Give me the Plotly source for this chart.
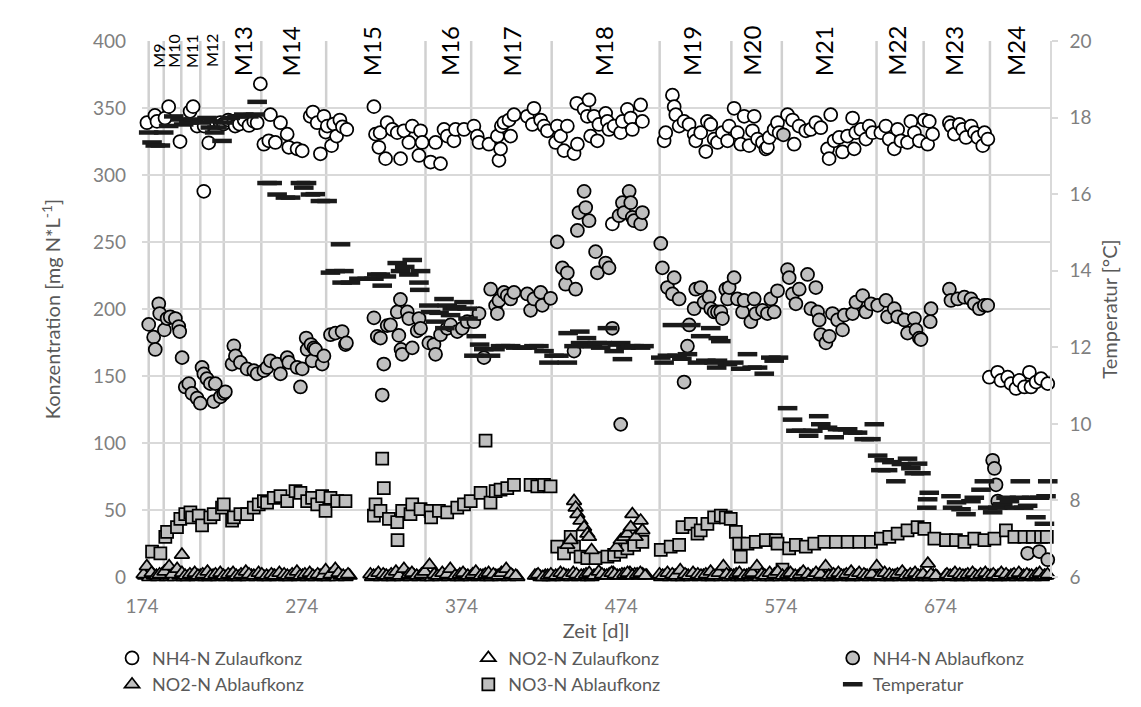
import plotly.graph_objects as go

FONT = "Lato"

# phase boundaries (day) and phase label positions
phase_start = [178.2, 187.6, 198.6, 210.5, 225.2, 248.7, 289.3, 351.5, 380.1,
               430.5, 498.1, 543.0, 574.6, 633.9, 663.4, 704.9]
phase_names = ['M9', 'M10', 'M11', 'M12', 'M13', 'M14', 'M15', 'M16', 'M17',
               'M18', 'M19', 'M20', 'M21', 'M22', 'M23', 'M24']
phase_label_x = [184.2, 193.9, 205.3, 217.9, 236.7, 266.9, 317.5, 366.2, 405.2,
                 462.7, 517.7, 555.1, 600.5, 646.4, 681.7, 720.5]

# NH4-N Zulaufkonz (white circles)
nh4_zu_days = [177.1, 182.1, 183.4, 188.4, 190.7, 197.8, 204.1, 206.0, 208.5, 212.7,
               212.9, 215.8, 222.9, 225.0, 228.0, 231.5, 232.3, 235.0, 238.0, 241.0,
               244.0, 246.1, 248.1, 250.3, 253.4, 254.4, 257.5, 260.7, 264.9, 265.9,
               271.1, 274.3, 279.3, 281.0, 283.7, 285.7, 287.9, 289.0, 290.0, 292.7,
               294.0, 295.8, 297.9, 299.5, 302.2,
               319.2, 320.2, 322.3, 323.1, 326.5, 327.5, 330.7, 333.8, 335.9, 338.0,
               341.1, 343.2, 347.4, 348.4, 349.4, 354.7, 357.8, 360.9, 363.1, 365.1,
               369.3, 370.3, 375.6, 381.8, 383.9, 385.0, 391.2, 396.5, 397.5, 398.5,
               399.0, 400.6, 403.8, 404.8, 406.9, 415.2, 418.4, 419.4, 423.6, 425.7,
               427.8, 433.0, 434.0, 436.1, 438.2, 440.3, 444.5, 446.2, 446.6, 450.8,
               452.8, 453.9, 454.9, 457.0, 459.1, 460.1, 464.3, 465.4, 466.4, 468.5,
               469.6, 473.7, 474.8, 477.9, 480.0, 481.0, 486.2, 487.3,
               500.9, 501.9, 506.1, 507.2, 508.2, 510.3, 513.4, 516.5, 519.7, 520.7,
               523.8, 527.0, 528.0, 530.1, 532.2, 534.3, 537.4, 540.6, 541.6, 544.7,
               546.8, 548.9, 551.0, 554.1, 556.2, 557.3, 559.4, 562.5, 564.6, 565.6,
               566.7, 569.8, 571.9, 572.9, 578.2, 581.3, 582.3, 585.4, 589.6, 592.7,
               595.9, 599.0, 603.2, 604.2, 605.2, 607.4, 610.5, 612.6, 615.7, 618.9,
               619.9, 620.9, 624.1, 627.2, 629.3, 631.4, 636.6, 639.7, 641.8, 645.0,
               647.1, 649.2, 653.3, 655.4, 657.6, 660.7, 663.8, 665.9, 666.9, 669.0,
               679.5, 680.5, 682.6, 685.8, 687.8, 689.9, 693.1, 695.2, 697.3, 700.4,
               701.5, 703.6,
               704.5, 709.7, 711.8, 716.0, 718.1, 721.2, 723.3, 726.5, 729.6, 730.6,
               733.8, 736.9, 741.1]
nh4_zu = [339, 344.5, 340, 342.5, 351, 325, 347.5, 351, 336.5, 287.8,
          336.5, 324, 339, 338, 341, 340, 336.5, 338, 341, 337,
          340, 339, 368, 323, 325.5, 345, 324.3, 339, 330.5, 320.7,
          319.5, 318, 343.8, 347, 339, 315.8, 343.8, 332, 336.5, 321.9,
          338, 329, 341, 336, 334,
          351, 330.5, 320.7, 331.6, 312.2, 339, 334, 331.6, 312.2, 333,
          324.3, 336.5, 314.6, 333, 324.3, 309.7, 324.3, 308.5, 334, 329,
          325.5, 334, 334, 336.5, 329, 324.3, 323, 329, 311, 319.5,
          336.5, 339, 341, 329, 345, 343.8, 337.7, 349.8, 341, 336.5,
          333, 324.3, 336.5, 329, 318.2, 336.5, 316, 353.5, 323, 349,
          343.8, 356, 329, 343.8, 325.5, 337.7, 346, 340, 334, 263.5,
          336.5, 331.6, 340, 349, 342.5, 334, 352.3, 340,
          325.5, 331.6, 359.6, 351, 345, 336.5, 340, 337.7, 330.5, 325.5,
          331.6, 317.5, 340, 337.7, 326.8, 324.3, 331.6, 325.5, 336.5, 349.8,
          331.6, 323, 343.8, 321.9, 333, 343.8, 326.8, 324.3, 319.5, 320.7,
          328, 334, 339, 331.6, 345, 341, 323, 336.5, 333, 334,
          339, 335.3, 319.5, 312.2, 345, 325.5, 328, 317.2, 329, 342.5,
          319.5, 331.6, 334, 326.8, 336.5, 331.6, 331.6, 336.5, 326.8, 319.5,
          334, 325.5, 324.3, 340, 331.6, 325.5, 341, 323, 340, 330.5,
          339, 336.5, 330.5, 337.7, 334, 328, 336.5, 331.6, 328, 321.9,
          331.6, 326.8,
          149.1, 152.8, 146.7, 149.1, 144.3, 140.7, 146.7, 141.8, 152.8, 141.8,
          145.5, 148, 144.3]

# NH4-N Ablaufkonz (grey circles)
nh4_ab_days = [178.2, 181.3, 182.3, 184.5, 185.1, 188.0, 189.7, 191.7, 194.9, 197.0,
               197.6, 199.1, 201.1, 203.3, 205.3, 208.5, 210.5, 211.6, 212.7, 214.7,
               216.8, 218.9, 219.9, 223.1, 225.2, 226.2, 230.4, 231.5, 232.5, 235.6,
               239.8, 244.0, 246.1, 250.3, 252.3, 254.4, 258.6, 260.7, 264.9, 265.9,
               271.1, 273.2, 274.3, 276.8, 277.4, 279.8, 280.5, 281.6, 282.6, 286.8,
               287.9, 292.0, 295.1, 299.3, 301.4, 302.0,
               319.2, 321.3, 323.3, 324.4, 325.4, 327.5, 329.6, 333.8, 334.8, 335.8,
               336.2, 336.9, 340.1, 341.1, 343.2, 346.3, 347.4, 348.4, 353.6, 356.8,
               357.8, 360.9, 365.1, 367.2, 371.4, 374.5, 377.6, 381.8, 385.0, 388.1,
               392.3, 395.4, 396.5, 397.5, 400.6, 402.7, 404.8, 406.9, 415.2, 417.3,
               419.4, 423.6, 424.6, 429.8, 434.0, 437.2, 439.2, 440.3, 444.5, 445.5,
               446.6, 447.6, 450.8, 451.8, 453.9, 458.0, 459.1, 464.3, 466.4, 468.5,
               472.7, 473.7, 474.8, 475.8, 479.0, 480.0, 481.0, 482.1, 486.2, 487.3,
               498.8, 499.8, 503.0, 506.1, 507.2, 510.3, 513.4, 515.5, 516.6, 519.7,
               520.7, 523.8, 525.9, 529.1, 530.1, 532.2, 534.3, 536.4, 537.4, 539.5,
               540.6, 541.6, 544.7, 546.8, 550.0, 551.0, 555.2, 557.3, 558.3, 562.5,
               565.6, 567.7, 569.8, 571.9, 575.6, 578.2, 579.2, 581.3, 583.4, 585.5,
               590.7, 592.8, 595.9, 597.0, 598.0, 599.0, 602.2, 604.3, 606.3, 609.5,
               612.6, 613.7, 618.9, 621.0, 625.2, 627.2, 630.4, 634.6, 639.8, 640.8,
               645.0, 647.1, 651.3, 653.3, 657.6, 658.6, 660.7, 661.7, 667.5, 668.0,
               679.5, 680.5, 684.7, 688.9, 693.0, 695.1, 698.3, 701.4, 703.5,
               706.6, 707.7, 708.7, 709.8, 728.5, 735.8, 741.1]
nh4_ab = [188.5, 179, 169.8, 203.9, 196.6, 184.4, 192.9, 194.2, 192.9, 186.9,
          183.2, 163.7, 141.8, 144.3, 137, 133.4, 129.7, 156.4, 151.6, 148,
          144.3, 130.9, 144.3, 134.5, 137, 138.2, 158.9, 172.5, 165, 160.1,
          155.3, 154, 151.6, 154, 156.4, 161.3, 158.9, 151.6, 163.7, 160.1,
          156.4, 141.8, 155.3, 178.3, 169.8, 173.5, 161.3, 171, 169.8, 158.9,
          165, 180.8, 182, 183.2, 173.5, 174.7,
          193.4, 179.6, 178.3, 135.8, 158.9, 187.6, 188.1, 197.8, 180.3, 207.1,
          169.8, 166.2, 197.8, 192.9, 171, 183.7, 192.9, 185.6, 174.7, 173.5,
          166.2, 180.8, 185.6, 188.1, 183.2, 185.6, 190.5, 190.5, 196.6, 163.7,
          214.8, 202.7, 196.6, 206.4, 212.4, 210, 207.5, 212.4, 211.2, 199,
          207.5, 212.4, 202.7, 208, 250.1, 230.7, 218.5, 227, 168.6, 214.8,
          258.6, 272, 287.8, 275.7, 265.9, 242.8, 227, 234.3, 230.7, 185.6,
          269.6, 113.9, 279.3, 272, 287.8, 279.3, 268.4, 265.9, 263.5, 272,
          248.9, 230.7, 216, 211.2, 223.4, 207.5, 145.5, 172.3, 188.1, 200.2,
          214.8, 216, 205.1, 208.8, 200.2, 197.8, 197.8, 197.8, 192.9, 214.8,
          207.5, 216, 223.4, 207.5, 197.8, 206.4, 190.5, 207.5, 196.6, 199,
          196.6, 207.5, 197.8, 213.6, 330, 229.4, 223.4, 211.2, 203.9, 214.8,
          225.8, 200.2, 216, 197.8, 191.8, 180.8, 174.7, 179.6, 196.6, 191.8,
          184.4, 195.4, 196.6, 205.1, 210, 197.8, 203.9, 202.7, 206.4, 194.2,
          200.2, 194.2, 191.8, 182, 192.9, 184.4, 178.3, 177.2, 190.5, 200.2,
          214.8, 206.4, 207.5, 208.8, 207.5, 203.9, 200.2, 202.7, 202.7,
          87.1, 81, 68.8, 56.7, 17.7, 19, 12.9]

# NO3-N Ablaufkonz (grey squares)
no3_ab_days = [180.3, 185.5, 188.6, 189.7, 195.9, 198.0, 201.1, 204.3, 205.3, 209.5,
               211.6, 216.8, 218.9, 224.1, 225.2, 230.4, 231.5, 235.6, 239.8, 244.0,
               247.1, 250.3, 252.3, 256.5, 260.7, 264.9, 270.1, 273.2, 277.4, 280.5,
               283.7, 286.8, 288.9, 292.0, 296.2, 301.4,
               319.2, 320.2, 323.3, 324.4, 325.4, 328.6, 333.8, 334.0, 336.9, 342.1,
               343.2, 348.4, 354.7, 355.0, 359.9, 365.1, 371.4, 375.6, 379.8, 386.0,
               389.1, 392.2, 395.4, 398.5, 402.7, 406.9, 417.3, 421.5, 425.7, 429.8,
               434.0, 438.2, 442.4, 444.5, 448.6, 452.8, 458.0, 465.4, 469.6, 473.7,
               477.9, 482.1, 487.3,
               498.8, 505.0, 510.3, 512.4, 517.6, 521.8, 523.8, 528.0, 532.2, 536.4,
               539.5, 542.6, 545.8, 547.9, 548.9, 553.1, 558.3, 564.6, 570.8, 571.9,
               575.0, 579.2, 583.4, 589.6, 594.9, 601.2, 608.4, 615.8, 623.1, 630.4,
               636.6, 641.9, 647.1, 653.3, 659.6, 663.8, 670.1, 677.4, 683.6, 688.9,
               695.1, 701.4, 707.7, 714.9, 720.2, 726.5, 731.7, 736.9, 740.5]
no3_ab = [19, 17.7, 29.9, 33.6, 37.2, 43.3, 46.9, 48.2, 44.5, 45.8,
          38.5, 44.5, 46.9, 51.8, 54.2, 42.1, 44.5, 46.9, 46.9, 51.8,
          54.2, 56.7, 55.5, 59.1, 60.4, 56.7, 64, 62.8, 56.7, 59.1,
          54.2, 60.4, 49.4, 59.1, 56.7, 56.7,
          45.8, 54.2, 49.4, 88.3, 66.4, 43.3, 40.9, 27.5, 49.4, 46.9,
          54.2, 50.6, 49.4, 44.5, 49.4, 48.2, 51.8, 54.2, 56.7, 62.8,
          101.7, 55.5, 64, 65.2, 66.4, 68.8, 68.8, 67.7, 68.8, 67.7,
          22.6, 17.7, 29.9, 22.6, 15.3, 14.1, 14.1, 15.3, 16.6, 19,
          21.4, 23.9, 26.3,
          20.2, 22.6, 23.9, 37.2, 39.6, 32.3, 34.8, 39.6, 44.5, 45.8,
          44.5, 43.3, 33.6, 25, 15.3, 25, 26.3, 27.5, 27.5, 25,
          5.6, 21.4, 23.9, 22.6, 25, 26.3, 26.3, 26.3, 26.3, 26.3,
          28.7, 29.9, 32.3, 34.8, 37.2, 36, 28.7, 27.5, 27.5, 26.3,
          28.7, 27.5, 28.7, 34.8, 29.9, 29.9, 29.9, 29.9, 29.9]

# NO2-N Zulaufkonz (white triangles)
no2_zu_days = [176, 178.5, 181.5, 184, 186.5, 189.5, 192, 194.5, 197.5, 200,
               202.5, 205.5, 208, 210.5, 213.5, 216, 218.5, 221.5, 224, 226.5,
               229.5, 232, 234.5, 237.5, 240, 242.5, 245.5, 248, 250.5, 253.5,
               256, 258.5, 261.5, 264, 266.5, 269.5, 272, 274.5, 277.5, 280,
               282.5, 285.5, 288, 290.5, 293.5, 296, 298.5, 301.5, 304,
               318, 320.5, 323.5, 326, 328.5, 331.5, 334, 336.5, 339.5, 342,
               344.5, 347.5, 350, 352.5, 355.5, 358, 360.5, 363.5, 366, 368.5,
               371.5, 374, 376.5, 379.5, 382, 384.5, 387.5, 390, 392.5, 395.5,
               398, 400.5, 403.5, 406, 409,
               421, 423.5, 426.5, 429, 431.5, 434.5, 437, 439.5, 442.5, 445,
               447.5, 450.5, 453, 455.5, 458.5, 461, 463.5, 466.5, 469, 471.5,
               474.5, 477, 479.5, 482.5, 485, 487.5, 490,
               499, 501.5, 504.5, 507, 509.5, 512.5, 515, 517.5, 520.5, 523,
               525.5, 528.5, 531, 533.5, 536.5, 539, 541.5, 544.5, 547, 549.5,
               552.5, 555, 557.5, 560.5, 563, 565.5, 568.5, 571, 573.5, 576.5,
               579, 581.5, 584.5, 587, 589.5, 592.5, 595, 597.5, 600.5, 603,
               605.5, 608.5, 611, 613.5, 616.5, 619, 621.5, 624.5, 627, 629.5,
               632.5, 635, 637.5, 640.5, 643, 645.5, 648.5, 651, 653.5, 656.5,
               659, 661.5, 664.5, 667, 669.5, 672,
               677, 679.5, 681.5, 684.5, 687, 689.5, 692.5, 695, 697.5, 700.5,
               703, 705.5, 708.5, 711, 713.5, 716.5, 719, 721.5, 724.5, 727,
               729.5, 732.5, 735, 737.5, 740]
no2_zu = [1, 0, 1, 0, 2, 0, 1, 0, 1, 0,
          0, 1, 0, 1, 0, 0, 1, 0, 1, 0,
          1, 0, 0, 1, 0, 1, 0, 1, 0, 0,
          1, 0, 1, 0, 0, 1, 0, 1, 0, 1,
          0, 1, 0, 0, 1, 0, 1, 0, 1,
          0, 1, 0, 1, 0, 0, 1, 0, 1, 0,
          1, 0, 1, 0, 0, 1, 0, 1, 0, 1,
          0, 0, 1, 0, 1, 0, 1, 0, 0, 1,
          0, 1, 0, 1, 0,
          1, 0, 1, 0, 0, 1, 0, 1, 0, 1,
          0, 1, 0, 0, 1, 2, 1, 2, 3, 1,
          2, 1, 3, 2, 1, 2, 1,
          0, 1, 0, 1, 0, 0, 1, 0, 1, 0,
          1, 0, 0, 1, 0, 1, 0, 1, 0, 0,
          1, 0, 1, 0, 1, 0, 0, 1, 0, 1,
          0, 1, 0, 0, 1, 0, 1, 0, 1, 0,
          0, 1, 0, 1, 0, 0, 1, 0, 1, 0,
          1, 0, 1, 0, 0, 1, 0, 1, 0, 1,
          0, 1, 0, 0, 1, 0,
          1, 0, 1, 0, 0, 1, 0, 1, 0, 1,
          0, 1, 0, 0, 1, 0, 1, 0, 1, 0,
          1, 0, 1, 0, 1]

# NO2-N Ablaufkonz (grey triangles)
no2_ab_days = [175, 177, 180, 183, 185, 188, 191, 193, 196, 199,
               201, 204, 207, 209, 212, 215, 217, 220, 223, 225,
               228, 231, 233, 236, 239, 241, 244, 247, 249, 252,
               255, 257, 260, 263, 265, 268, 271, 273, 276, 279,
               281, 284, 287, 289, 292, 295, 297, 300, 303,
               317, 319, 322, 325, 327, 330, 333, 335, 338, 341,
               343, 346, 349, 351, 354, 357, 359, 362, 365, 367,
               370, 373, 375, 378, 381, 383, 386, 389, 391, 394,
               397, 399, 402, 405, 408,
               420, 422, 425, 428, 430, 433, 436, 438, 441, 444,
               446, 449, 452, 454, 457, 460, 462, 465, 468, 470,
               473, 476, 478, 481, 484, 486, 489,
               498, 500, 503, 506, 508, 511, 514, 516, 519, 522,
               524, 527, 530, 532, 535, 538, 540, 543, 546, 548,
               551, 554, 556, 559, 562, 564, 567, 570, 572, 575,
               578, 580, 583, 586, 588, 591, 594, 596, 599, 602,
               604, 607, 610, 612, 615, 618, 620, 623, 626, 628,
               631, 634, 636, 639, 642, 644, 647, 650, 652, 655,
               658, 660, 663, 666, 668, 671,
               678, 680, 683, 686, 688, 691, 694, 696, 699, 702,
               704, 707, 710, 712, 715, 718, 720, 723, 726, 728,
               731, 734, 736, 739, 741]
no2_ab = [2, 8, 3, 1, 2, 4, 8, 2, 6, 3,
          1, 2, 3, 1, 2, 4, 1, 2, 3, 1,
          2, 3, 1, 2, 4, 2, 1, 3, 2, 1,
          2, 1, 3, 2, 1, 2, 4, 1, 2, 3,
          1, 2, 1, 5, 2, 6, 3, 1, 2,
          2, 1, 3, 2, 1, 2, 4, 1, 6, 2,
          3, 1, 2, 4, 9, 2, 1, 3, 2, 6,
          1, 2, 3, 1, 2, 4, 1, 2, 3, 2,
          1, 3, 6, 2, 1,
          1, 2, 0, 1, 2, 1, 3, 2, 1, 3,
          2, 1, 2, 3, 1, 4, 2, 1, 3, 2,
          1, 2, 3, 1, 2, 3, 1,
          2, 1, 3, 2, 1, 5, 2, 1, 3, 2,
          1, 2, 4, 1, 3, 8, 2, 1, 2, 3,
          1, 2, 3, 8, 2, 1, 3, 2, 4, 1,
          2, 3, 1, 2, 4, 2, 1, 3, 2, 8,
          1, 2, 3, 1, 2, 4, 1, 3, 2, 1,
          2, 8, 1, 3, 2, 1, 2, 4, 1, 2,
          3, 1, 2, 10, 2, 1,
          2, 1, 3, 2, 1, 2, 3, 1, 2, 3,
          1, 2, 1, 3, 2, 1, 2, 3, 1, 2,
          1, 2, 3, 1, 2]
# extra NO2-N Ablauf points (nitrite peaks in M18)
no2_peak_days = [199.0, 440.3, 442.4, 444.5, 445.5, 446.6, 448.5, 450.8, 452.8, 453.9,
                 455.5, 471.0, 473.7, 475.8, 477.9, 480.0, 481.0, 483.1, 486.2, 487.3]
no2_peak = [16.6, 23.9, 27.5, 56.7, 51.8, 46.9, 42, 37.2, 32.3, 29.9,
            20, 22, 27.5, 29.9, 32.3, 37.2, 46.9, 29.9, 42.1, 34.8]

# Temperatur (right axis, degC)
temp_days = [178.2, 180.3, 182.3, 185.5, 187.6, 190.7, 193.9, 198.0, 200.1, 203.3,
             206.4, 210.5, 214.7, 216.8, 218.9, 219.5, 221.0, 224.1, 225.2, 229.3,
             233.5, 237.7, 240.9, 245.0, 246.1, 252.3, 255.5, 258.6, 263.8, 267.0,
             273.2, 275.3, 277.0, 279.5, 282.5, 285.7, 289.9, 292.0, 295.0, 298.3,
             299.3, 300.4, 304.5, 309.8, 315.0, 319.2, 321.0, 323.3, 324.4, 327.0,
             333.8, 335.9, 338.5, 341.1, 343.2, 347.4, 347.9, 348.4, 353.6, 354.7,
             357.8, 360.0, 363.1, 363.6, 365.1, 367.2, 368.3, 371.0, 375.6, 377.6,
             378.1, 381.8, 383.3, 385.4, 388.0, 392.2, 395.0, 398.5, 401.5, 404.8,
             408.0, 412.0, 415.2, 419.4, 422.5, 425.7, 428.8, 432.0, 435.0, 440.3,
             440.8, 444.5, 448.1, 448.6, 452.3, 452.8, 456.0, 459.1, 461.2, 462.2,
             465.4, 469.6, 471.6, 473.7, 474.8, 477.0, 480.0, 482.1, 486.2, 488.3,
             498.8, 500.9, 503.0, 506.1, 509.0, 512.0, 515.5, 517.6, 521.8, 523.8,
             527.0, 530.1, 532.2, 533.8, 534.3, 534.8, 536.4, 540.6, 544.5, 548.9,
             553.1, 556.0, 559.4, 563.6, 567.7, 569.8, 572.5, 578.2, 581.3, 583.4,
             587.0, 591.4, 594.0, 597.7, 599.0, 603.2, 607.4, 609.5, 612.5, 615.8,
             619.0, 622.0, 626.2, 630.4, 632.5, 634.6, 636.6, 638.7, 640.8, 643.5,
             646.0, 649.5, 653.3, 655.4, 657.6, 659.6, 661.7, 665.4, 665.9, 666.9,
             680.5, 681.5, 684.0, 686.8, 689.9, 693.0, 695.1, 699.3, 701.4, 703.5,
             706.6, 709.8, 712.9, 715.0, 717.1, 720.2, 723.4, 723.9, 726.0, 728.5,
             731.0, 733.7, 736.0, 739.0, 740.0, 741.1]
temp = [17.61, 17.35, 17.27, 17.27, 17.61, 17.78, 18.03, 17.95, 17.82, 17.87,
        17.95, 17.87, 17.99, 17.74, 17.90, 17.61, 17.74, 17.39, 17.87, 17.99,
        18.03, 18.08, 18.03, 18.08, 18.41, 16.29, 16.29, 15.99, 15.91, 15.91,
        16.29, 16.17, 16.29, 15.99, 16.00, 15.82, 15.82, 13.95, 13.99, 14.69,
        13.69, 13.99, 13.69, 13.79, 13.79, 13.79, 13.90, 13.90, 13.61, 13.85,
        14.20, 13.99, 14.10, 13.90, 14.28, 13.69, 13.50, 13.99, 13.09, 12.92,
        12.67, 12.90, 13.26, 12.50, 13.09, 12.84, 13.01, 13.05, 13.18, 13.01,
        12.75, 11.78, 12.29, 12.07, 11.95, 11.78, 11.95, 12.03, 12.03, 12.03,
        11.99, 11.99, 11.99, 12.03, 12.03, 11.90, 11.60, 11.78, 11.78, 11.60,
        12.37, 12.03, 12.41, 12.11, 12.24, 12.03, 12.03, 12.11, 11.99, 12.11,
        12.50, 11.90, 12.07, 12.11, 11.69, 11.99, 12.03, 12.03, 11.99, 12.03,
        11.73, 11.60, 11.78, 12.58, 11.78, 11.70, 11.82, 12.58, 11.60, 12.29,
        11.65, 12.50, 11.60, 11.47, 11.65, 12.24, 12.16, 11.56, 11.60, 11.44,
        11.82, 11.47, 11.47, 11.31, 11.73, 11.65, 11.73, 10.41, 10.11, 9.82,
        9.82, 9.69, 9.82, 10.20, 9.99, 9.90, 9.65, 9.86, 9.86, 9.86,
        9.77, 9.77, 9.60, 9.60, 9.99, 9.17, 8.79, 9.05, 8.79, 9.00,
        8.50, 8.95, 9.09, 8.84, 8.71, 8.96, 8.71, 7.81, 8.03, 8.20,
        8.11, 7.81, 7.95, 7.77, 7.64, 7.98, 8.07, 8.28, 8.50, 7.81,
        7.69, 7.81, 7.90, 8.07, 7.98, 7.81, 8.07, 8.50, 7.81, 7.86,
        8.07, 7.56, 8.07, 7.39, 8.11, 8.50]

GREY = '#bfbfbf'
OUT = dict(color='black', width=1.75)

fig = go.Figure()
fig.add_trace(go.Scatter(x=nh4_zu_days, y=nh4_zu, mode='markers', name='NH4-N Zulaufkonz',
                         marker=dict(symbol='circle', size=13, color='white', line=OUT),
                         cliponaxis=False, legend='legend'))
fig.add_trace(go.Scatter(x=no2_zu_days, y=no2_zu, mode='markers', name='NO2-N Zulaufkonz',
                         marker=dict(symbol='triangle-up', size=13, color='white', line=OUT),
                         cliponaxis=False, legend='legend2'))
fig.add_trace(go.Scatter(x=nh4_ab_days, y=nh4_ab, mode='markers', name='NH4-N Ablaufkonz',
                         marker=dict(symbol='circle', size=13, color=GREY, line=OUT),
                         cliponaxis=False, legend='legend3'))
fig.add_trace(go.Scatter(x=no3_ab_days, y=no3_ab, mode='markers', name='NO3-N Ablaufkonz',
                         marker=dict(symbol='square', size=12, color=GREY, line=OUT),
                         cliponaxis=False, legend='legend2'))
fig.add_trace(go.Scatter(x=no2_ab_days + no2_peak_days, y=no2_ab + no2_peak, mode='markers',
                         name='NO2-N Ablaufkonz',
                         marker=dict(symbol='triangle-up', size=13, color=GREY, line=OUT),
                         cliponaxis=False, legend='legend'))
fig.add_trace(go.Scatter(x=temp_days, y=temp, mode='markers', name='Temperatur', yaxis='y2',
                         marker=dict(symbol='line-ew', size=14, color='#1a1a1a',
                                     line=dict(color='#1a1a1a', width=4.5)),
                         cliponaxis=False, legend='legend3'))

# phase separators
for xs in phase_start:
    fig.add_shape(type='line', xref='x', yref='paper', x0=xs, x1=xs, y0=0, y1=1,
                  line=dict(color='#d0d0d0', width=2.5), layer='below')

for name, xl in zip(phase_names, phase_label_x):
    small = name in ('M9', 'M10', 'M11', 'M12')
    fig.add_annotation(x=xl, y=378.8 if small else 372.3, xref='x', yref='y',
                       text=name, textangle=-90, showarrow=False,
                       xanchor='center', yanchor='bottom',
                       font=dict(family=FONT, size=16 if small else 24, color='black'))

tick_font = dict(family=FONT, size=19, color='#7f7f7f')
title_font = dict(family=FONT, size=20, color='#595959')
leg = dict(orientation='v', font=dict(family=FONT, size=18, color='#595959'),
           bgcolor='rgba(0,0,0,0)', tracegroupgap=0, itemwidth=30,
           xanchor='left', yanchor='top', y=-0.117)

fig.update_layout(
    width=1141, height=707,
    margin=dict(l=134, r=99, t=33, b=126),
    paper_bgcolor='white', plot_bgcolor='white',
    font=dict(family=FONT),
    xaxis=dict(range=[174, 742.5], tickmode='linear', tick0=174, dtick=100,
               showgrid=False, zeroline=False, showline=False, ticks='',
               tickfont=tick_font, ticklabelstandoff=16,
               title=dict(text='Zeit [d]l', font=title_font, standoff=7)),
    yaxis=dict(range=[0, 400], tickmode='linear', tick0=0, dtick=50,
               showgrid=True, gridcolor='#d9d9d9', gridwidth=2,
               zeroline=False, showline=False, ticks='',
               tickfont=tick_font, ticklabelstandoff=15,
               title=dict(text='Konzentration [mg N*L<sup>-1</sup>]', font=title_font,
                          standoff=26)),
    yaxis2=dict(range=[6, 20], tickmode='linear', tick0=6, dtick=2, overlaying='y',
                side='right', showgrid=False, zeroline=False,
                showline=True, linecolor='#d9d9d9', linewidth=1.5,
                ticks='outside', ticklen=6, tickcolor='#d9d9d9', tickwidth=1.5,
                tickfont=tick_font, ticklabelstandoff=8,
                title=dict(text='Temperatur [°C]', font=title_font, standoff=12)),
    legend=dict(leg, x=-0.033),
    legend2=dict(leg, x=0.3594),
    legend3=dict(leg, x=0.7607),
)

fig.write_html("out.html")
